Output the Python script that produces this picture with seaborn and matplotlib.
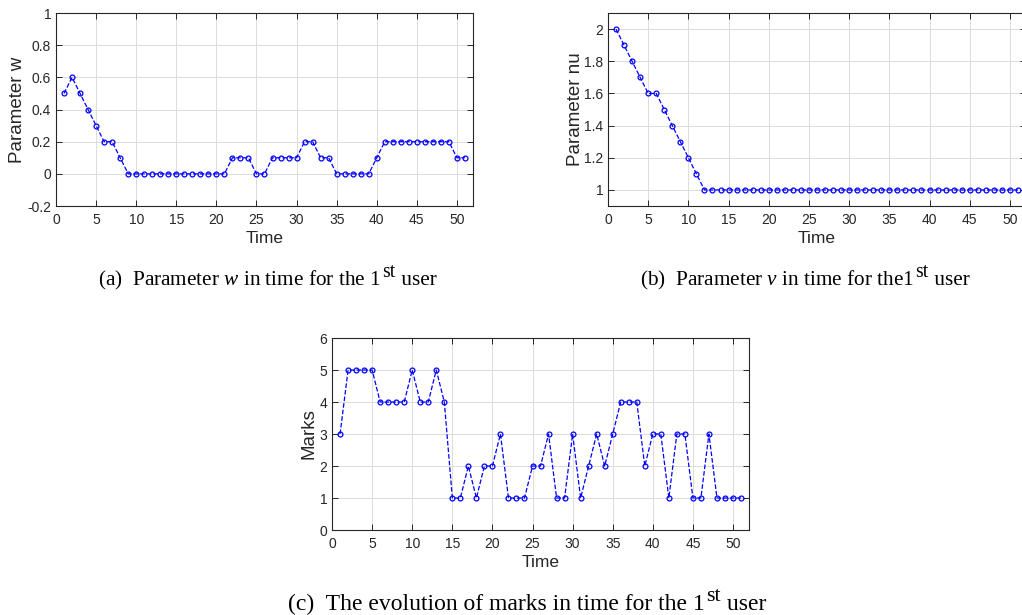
import seaborn as sns
import pandas as pd
import numpy as np
from matplotlib import pyplot as plt
from matplotlib.ticker import FuncFormatter, MultipleLocator

# data, time steps 1..51
time = list(range(1, 52))
param_w = [0.5, 0.6, 0.5, 0.4, 0.3, 0.2, 0.2, 0.1,
           0, 0, 0, 0, 0, 0, 0, 0, 0, 0, 0, 0, 0,
           0.1, 0.1, 0.1, 0, 0, 0.1, 0.1, 0.1, 0.1, 0.2, 0.2, 0.1, 0.1,
           0, 0, 0, 0, 0, 0.1,
           0.2, 0.2, 0.2, 0.2, 0.2, 0.2, 0.2, 0.2, 0.2, 0.1, 0.1]
param_nu = [2, 1.9, 1.8, 1.7, 1.6, 1.6, 1.5, 1.4, 1.3, 1.2, 1.1] + [1] * 40
marks = [3, 5, 5, 5, 5, 4, 4, 4, 4, 5, 4, 4, 5, 4, 1, 1, 2, 1, 2, 2,
         3, 1, 1, 1, 2, 2, 3, 1, 1, 3, 1, 2, 3, 2, 3, 4, 4, 4, 2, 3,
         3, 1, 3, 3, 1, 1, 3, 1, 1, 1, 1]

# caption pieces: main text, superscript, rest
captions = [(r'(a)  Parameter $w$ in time for the 1', 'st', ' user'),
            (r'(b)  Parameter $\nu$ in time for the1', 'st', ' user'),
            (r'(c)  The evolution of marks in time for the 1', 'st', ' user')]

df = pd.DataFrame({'Time': time, 'w': param_w, 'nu': param_nu, 'Marks': marks})

sns.set_theme(style='ticks')
plt.rcParams['font.family'] = ['Liberation Sans', 'DejaVu Sans']
plt.rcParams['mathtext.fontset'] = 'custom'
plt.rcParams['mathtext.rm'] = 'Liberation Serif'
plt.rcParams['mathtext.it'] = 'Liberation Serif:italic'

dark = '#262626'
W, H = 1022, 615
fig = plt.figure(figsize=(W / 100, H / 100), dpi=100)

axes_pos = [[0.0548, 0.665, 0.408, 0.3138],
            [0.5949, 0.665, 0.409, 0.3138],
            [0.3249, 0.1382, 0.408, 0.3122]]
cols = ['w', 'nu', 'Marks']
ylabels = ['Parameter w', 'Parameter nu', 'Marks']
ylims = [(-0.2, 1), (0.9, 2.1), (0, 6)]
ysteps = [0.2, 0.2, 1]
ypads = [1, 0, 1]

for pos, col, ylab, ylim, ystep, ypad in zip(axes_pos, cols, ylabels, ylims, ysteps, ypads):
    ax = fig.add_axes(pos)
    sns.lineplot(data=df, x='Time', y=col, ax=ax, color='#0000ff',
                 linestyle='--', linewidth=0.9, marker='o', markersize=3.5,
                 markerfacecolor='none', markeredgecolor='#0000ff',
                 markeredgewidth=0.9)
    ax.set_xlim(0, 52)
    ax.set_ylim(*ylim)
    ax.xaxis.set_major_locator(MultipleLocator(5))
    ax.yaxis.set_major_locator(MultipleLocator(ystep))
    if col == 'nu':
        ax.set_yticks([1, 1.2, 1.4, 1.6, 1.8, 2])
    ax.yaxis.set_major_formatter(FuncFormatter(lambda v, p: f'{round(v, 2):g}'))
    ax.grid(True, color='#dcdcdc', linewidth=0.7)
    ax.set_axisbelow(True)
    for s in ax.spines.values():
        s.set_visible(True)
        s.set_color(dark)
        s.set_linewidth(0.8)
    ax.tick_params(direction='in', length=4, width=0.7, top=True, right=True,
                   colors=dark, labelsize=10)
    ax.tick_params(axis='x', pad=5)
    ax.set_xlabel('Time', fontsize=12.5, color=dark, labelpad=3)
    ax.set_ylabel(ylab, fontsize=13.5, color=dark, labelpad=ypad)

# captions drawn piece by piece so the superscript keeps full size
renderer = fig.canvas.get_renderer()
cap_start = [(98, 285, 15.3), (640, 285, 15.3), (288, 610, 17)]
serif = ['Liberation Serif', 'DejaVu Serif']
for (x0, y0, fs), (main, sup, rest) in zip(cap_start, captions):
    x = x0
    for text, size, raise_px in [(main, fs, 0), (sup, fs - 1, fs * 0.55), (rest, fs, 0)]:
        t = fig.text(x / W, 1 - (y0 - raise_px) / H, text, ha='left', va='baseline',
                     fontsize=size, family=serif, color='black')
        x = t.get_window_extent(renderer).x1 + 1

fig.savefig('out.png', dpi=100)
